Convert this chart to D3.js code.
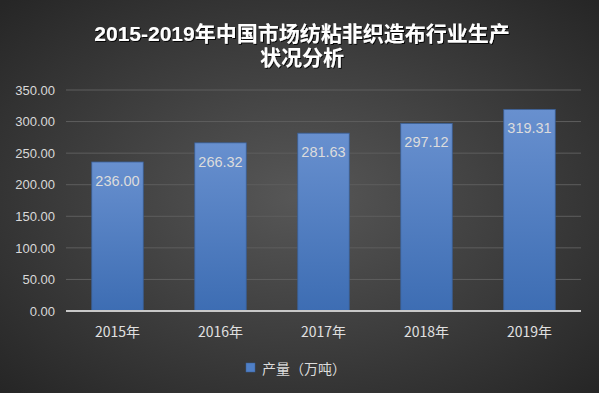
<!DOCTYPE html>
<html><head><meta charset="utf-8">
<script src="https://cdn.jsdelivr.net/npm/d3@7"></script>
<style>html,body{margin:0;padding:0;background:#333;}svg{display:block;}</style>
</head><body>
<svg id="c" width="599" height="393"></svg>
<script>
const categories = ["2015年","2016年","2017年","2018年","2019年"];
const values = [236.00, 266.32, 281.63, 297.12, 319.31];
const yTicks = [0,50,100,150,200,250,300,350];
const titleLines = ["2015-2019年中国市场纺粘非织造布行业生产","状况分析"];
const seriesName = "产量（万吨）";

const svg = d3.select("#c");
const W = 599, H = 393;
const defs = svg.append("defs");
const rg = defs.append("radialGradient").attr("id","bg").attr("cx","50%").attr("cy","50%").attr("r","70%");
rg.append("stop").attr("offset","0%").attr("stop-color","#575757");
rg.append("stop").attr("offset","100%").attr("stop-color","#262626");
const bg = defs.append("linearGradient").attr("id","bar").attr("x1",0).attr("y1",0).attr("x2",0).attr("y2",1);
bg.append("stop").attr("offset","0%").attr("stop-color","#6890cf");
bg.append("stop").attr("offset","100%").attr("stop-color","#3d6db3");
const f = defs.append("filter").attr("id","sh").attr("x","-10%").attr("y","-10%").attr("width","120%").attr("height","140%");
f.append("feDropShadow").attr("dx",1).attr("dy",1).attr("stdDeviation",0.6).attr("flood-color","#000").attr("flood-opacity",0.9);

svg.append("rect").attr("width",W).attr("height",H).attr("fill","url(#bg)");

const x = d3.scaleBand().domain(categories).range([66,581]).paddingInner(0.5).paddingOuter(0.25);
const y = d3.scaleLinear().domain([0,350]).range([311,90]);

// gridlines
svg.append("g").selectAll("line").data(yTicks.filter(d=>d>0)).join("line")
  .attr("x1",66).attr("x2",581).attr("y1",d=>y(d)).attr("y2",d=>y(d))
  .attr("stroke","#5e5e5e").attr("stroke-width",1);

// y axis labels
const yAxis = d3.axisLeft(y).tickValues(yTicks).tickFormat(d3.format(".2f")).tickSize(0).tickPadding(10);
const ya = svg.append("g").attr("transform","translate(66,0)").call(yAxis);
ya.select(".domain").remove();
ya.selectAll("text").attr("fill","#d9d9d9").attr("font-family","Liberation Sans, Arial, sans-serif").attr("font-size",13).attr("x",-11);

// bars
svg.append("g").selectAll("rect").data(values).join("rect")
  .attr("x",(d,i)=>x(categories[i])).attr("width",x.bandwidth())
  .attr("y",d=>y(d)).attr("height",d=>y(0)-y(d))
  .attr("fill","url(#bar)").attr("stroke","#3a5f96").attr("stroke-width",0.8);

// value labels
svg.append("g").selectAll("text").data(values).join("text")
  .attr("x",(d,i)=>x(categories[i])+x.bandwidth()/2).attr("y",d=>y(d)+24)
  .attr("text-anchor","middle").attr("fill","#dcdcdc")
  .attr("font-family","Liberation Sans, Arial, sans-serif").attr("font-size",14.5)
  .text(d=>d3.format(".2f")(d));

// x axis
const xAxis = d3.axisBottom(x).tickSize(0).tickPadding(12);
const xa = svg.append("g").attr("transform","translate(0,311)").call(xAxis);
xa.select(".domain").attr("stroke","#c8c8c8").attr("stroke-width",2).attr("d","M66,0H581");
xa.selectAll("text").attr("fill","#e0e0e0").attr("font-family","Noto Sans CJK SC, sans-serif").attr("font-size",14)
  .attr("dy",null).attr("y",26);

// title
svg.append("g").selectAll("text").data(titleLines).join("text")
  .attr("x",302).attr("y",(d,i)=>41+i*23.5).attr("text-anchor","middle")
  .attr("fill","#ffffff").attr("font-weight","bold").attr("font-size",21)
  .attr("font-family","'Liberation Sans', 'Noto Sans CJK SC', sans-serif").attr("filter","url(#sh)")
  .text(d=>d);

// legend
const lg = svg.append("g");
lg.append("rect").attr("x",246).attr("y",363).attr("width",9).attr("height",9).attr("fill","#4f7fc6").attr("stroke","#3a5f96").attr("stroke-width",0.5);
lg.append("text").attr("x",262).attr("y",374).attr("fill","#dcdcdc")
  .attr("font-family","Noto Sans CJK SC, sans-serif").attr("font-size",14).text(seriesName);
</script>
</body></html>
